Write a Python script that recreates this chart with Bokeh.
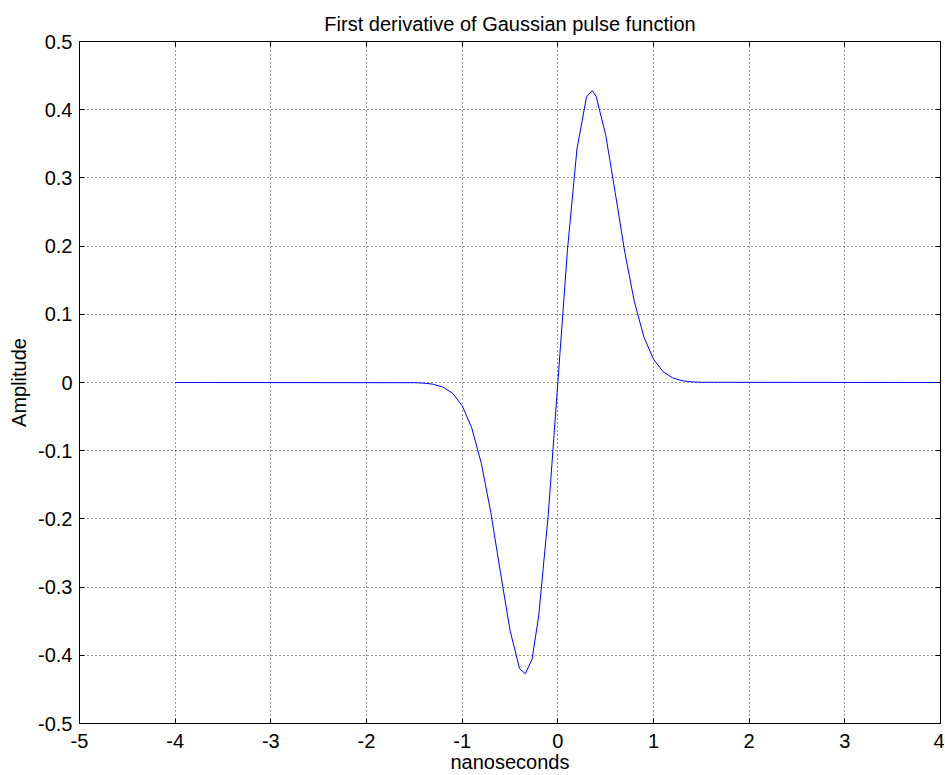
from bokeh.plotting import figure
from bokeh.models import LinearAxis, FixedTicker, Range1d
from bokeh.embed import file_html
from bokeh.resources import INLINE

# Data (time in ns, amplitude)
t_ns = [-4.0, -1.5, -1.4, -1.3, -1.2, -1.1, -1.0, -0.9, -0.8, -0.7, -0.6,
        -0.5, -0.4, -0.34, -0.27, -0.2, -0.1, 0.0, 0.1, 0.2, 0.3, 0.36,
        0.4, 0.5, 0.6, 0.7, 0.8, 0.9, 1.0, 1.1, 1.2, 1.3, 1.4, 1.5, 4.0]
amplitude = [0.0, -0.0003, -0.0009, -0.0026, -0.0068, -0.0159, -0.034,
             -0.0666, -0.1184, -0.191, -0.2783, -0.3633, -0.4196, -0.4270,
             -0.4060, -0.3424, -0.1935, 0.0, 0.1935, 0.3424, 0.4189, 0.4280,
             0.4196, 0.3633, 0.2783, 0.191, 0.1184, 0.0666, 0.034, 0.0159,
             0.0068, 0.0026, 0.0009, 0.0003, 0.0]

x_ticks = [-5, -4, -3, -2, -1, 0, 1, 2, 3, 4]
x_tick_labels = ["-5", "-4", "-3", "-2", "-1", "0", "1", "2", "3", "4"]
y_ticks = [-0.5, -0.4, -0.3, -0.2, -0.1, 0.0, 0.1, 0.2, 0.3, 0.4, 0.5]
y_tick_labels = ["-0.5", "-0.4", "-0.3", "-0.2", "-0.1", "0",
                 "0.1", "0.2", "0.3", "0.4", "0.5"]

title_text = "First derivative of Gaussian pulse function"
x_label = "nanoseconds"
y_label = "Amplitude"

FONT = "Liberation Sans"
FS = "20px"

p = figure(output_backend="svg", toolbar_location=None,
           frame_width=861, frame_height=682,
           min_border_left=79, min_border_top=41, min_border_right=4,
           min_border_bottom=51,
           x_range=Range1d(-5, 4), y_range=Range1d(-0.5, 0.5),
           title=title_text)

p.background_fill_color = "white"
p.border_fill_color = "white"
p.outline_line_color = "black"
p.outline_line_width = 1

p.title.align = "center"
p.title.text_font = FONT
p.title.text_font_size = FS
p.title.text_font_style = "normal"
p.title.text_color = "black"
p.title.standoff = 13

for ax in (p.xaxis[0], p.yaxis[0]):
    ax.major_label_text_font = FONT
    ax.major_label_text_font_size = FS
    ax.major_label_text_color = "black"
    ax.axis_label_text_font = FONT
    ax.axis_label_text_font_size = FS
    ax.axis_label_text_font_style = "normal"
    ax.axis_label_text_color = "black"
    ax.major_tick_in = 5
    ax.major_tick_out = 0
    ax.major_tick_line_color = "black"
    ax.minor_tick_line_color = None
    ax.axis_line_color = "black"

p.xaxis[0].ticker = FixedTicker(ticks=x_ticks)
p.yaxis[0].ticker = FixedTicker(ticks=y_ticks)
p.xaxis[0].major_label_overrides = {v: s for v, s in zip(x_ticks, x_tick_labels)}
p.yaxis[0].major_label_overrides = {v: s for v, s in zip(y_ticks, y_tick_labels)}
p.xaxis[0].axis_label = x_label
p.yaxis[0].axis_label = y_label
p.xaxis[0].major_label_standoff = 10
p.yaxis[0].major_label_standoff = 7
p.xaxis[0].axis_label_standoff = 0
p.yaxis[0].axis_label_standoff = 5

# box ticks on top and right (MATLAB style), no labels
top_ax = LinearAxis(ticker=FixedTicker(ticks=x_ticks),
                    major_label_overrides={v: "" for v in x_ticks},
                    major_tick_in=5, major_tick_out=0, minor_tick_line_color=None,
                    axis_line_color=None, major_label_standoff=0)
right_ax = LinearAxis(ticker=FixedTicker(ticks=y_ticks),
                      major_label_overrides={v: "" for v in y_ticks},
                      major_tick_in=5, major_tick_out=0, minor_tick_line_color=None,
                      axis_line_color=None, major_label_standoff=0)
p.add_layout(top_ax, "above")
p.add_layout(right_ax, "right")

for g in (p.xgrid[0], p.ygrid[0]):
    g.grid_line_color = "black"
    g.grid_line_dash = "1 3"
    g.grid_line_width = 1
    g.grid_line_alpha = 0.8
p.xgrid[0].ticker = FixedTicker(ticks=x_ticks)
p.ygrid[0].ticker = FixedTicker(ticks=y_ticks)

p.line(t_ns, amplitude, line_color="#0000ff", line_width=1)

open("out.html", "w").write(file_html(p, INLINE))
